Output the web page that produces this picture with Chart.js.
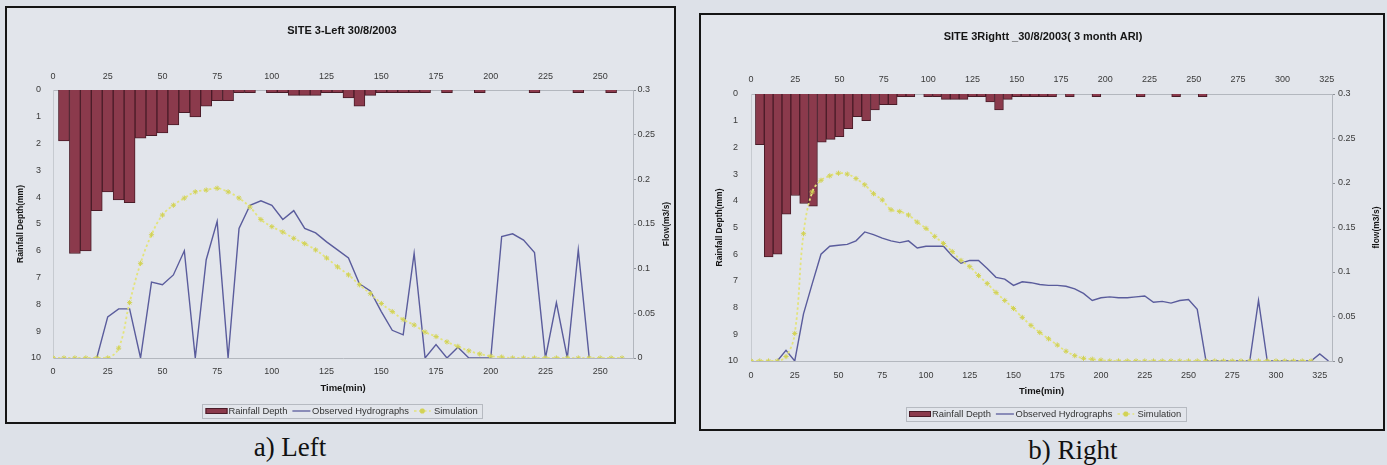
<!DOCTYPE html>
<html>
<head>
<meta charset="utf-8">
<script src="https://cdn.jsdelivr.net/npm/chart.js@4/dist/chart.umd.min.js"></script>
<style>
  html, body { margin: 0; padding: 0; }
  body {
    width: 1387px; height: 465px; position: relative; overflow: hidden;
    background: #dde1e8;
    font-family: "Liberation Sans", Arial, sans-serif;
  }
  .box { position: absolute; border: 2px solid #151515; box-sizing: border-box; background: #e2e5eb; }
  .box canvas { position: absolute; left: 0; top: 0; }
  .cap {
    position: absolute; transform: translateX(-50%); white-space: nowrap;
    font-family: "Liberation Serif", "Times New Roman", serif; font-size: 27px; line-height: 27px; color: #111;
  }
</style>
</head>
<body>
<div class="box" style="left:5px;top:6px;width:671px;height:418px">
  <canvas id="chartLeft" width="667" height="414" style="width:667px;height:414px"></canvas>
</div>
<div class="box" style="left:699px;top:13px;width:686px;height:418px">
  <canvas id="chartRight" width="682" height="414" style="width:682px;height:414px"></canvas>
</div>
<div class="cap" style="left:290px;top:434px">a) Left</div>
<div class="cap" style="left:1073px;top:437px">b) Right</div>

<script>
// Rainfall depth (mm) per 5-minute interval, same storm for both sites
const rainTime  = [5,10,15,20,25,30,35,40,45,50,55,60,65,70,75,80,85,90,95,100,
                   105,110,115,120,125,130,135,140,145,150,155,160,165,170,175,180,
                   185,190,195,200,205,210,215,220,225,230,235,240,245,250,255];
const rainDepth = [1.9,6.1,6.0,4.5,3.8,4.1,4.2,1.8,1.7,1.6,1.3,0.85,1.0,0.6,0.4,0.4,0.1,0.1,0,0.1,
                   0.1,0.2,0.2,0.2,0.1,0.1,0.3,0.6,0.2,0.1,0.1,0.1,0.1,0.1,0,0.1,
                   0,0,0.1,0,0,0,0,0.1,0,0,0,0.1,0,0,0.1];

// Site 3 left: time (min), observed and simulated flow (m3/s)
const timeLeft = [0,5,10,15,20,25,30,35,40,45,50,55,60,65,70,75,80,85,90,95,100,
                  105,110,115,120,125,130,135,140,145,150,155,160,165,170,175,180,
                  185,190,195,200,205,210,215,220,225,230,235,240,245,250,255,260];
const obsLeft  = [null,null,null,null,0,0.046,0.055,0.055,0,0.085,0.082,0.093,0.12,0,0.11,0.153,0,0.145,0.171,0.176,0.171,
                  0.155,0.165,0.145,0.14,0.13,0.121,0.112,0.083,0.075,0.052,0.031,0.026,0.117,0,0.015,0,
                  0.012,0,0,0,0.136,0.139,0.132,0.118,0,0.062,0,0.121,0,null,null,null];
const simLeft  = [0,0,0,0,0,0,0.011,0.062,0.106,0.138,0.16,0.171,0.179,0.186,0.188,0.19,0.186,0.179,0.169,0.155,0.147,
                  0.141,0.134,0.128,0.121,0.112,0.102,0.093,0.082,0.072,0.061,0.052,0.043,0.037,0.029,0.024,0.018,
                  0.013,0.008,0.0045,0.002,0.001,0,0,0,0,0,0,0,0,0,0,0];

// Site 3 right (3 month ARI): time (min), observed and simulated flow (m3/s)
const timeRight = [0,5,10,15,20,25,30,35,40,45,50,55,60,65,70,75,80,85,90,95,100,
                   105,110,115,120,125,130,135,140,145,150,155,160,165,170,175,180,
                   185,190,195,200,205,210,215,220,225,230,235,240,245,250,255,260,
                   265,270,275,280,285,290,295,300,305,310,315,320,325,330];
const obsRight  = [null,null,null,0,0.012,0,0.053,0.087,0.12,0.129,0.13,0.131,0.135,0.145,0.142,0.138,0.135,0.133,0.135,0.127,0.129,
                   0.129,0.129,0.118,0.11,0.113,0.113,0.104,0.094,0.092,0.085,0.089,0.088,0.086,0.085,0.085,0.084,
                   0.081,0.076,0.068,0.071,0.072,0.071,0.071,0.072,0.073,0.066,0.067,0.065,0.068,0.069,0.058,0,
                   0,0,0,0,0,0.068,0,0,0,0,0,0,0.008,0];
const simRight  = [0,0,0,0,0.005,0.031,0.143,0.19,0.203,0.208,0.211,0.21,0.205,0.198,0.188,0.181,0.17,0.168,0.164,0.156,0.149,
                   0.14,0.132,0.123,0.113,0.106,0.096,0.087,0.077,0.068,0.059,0.049,0.04,0.032,0.025,0.018,0.011,
                   0.006,0.003,0.002,0.001,0,0,0,0,0,0,0,0,0,0,0,0,
                   0,0,0,0,0,0,0,0,0,0,0,0];

const FONT = '"Liberation Sans", Arial, sans-serif';
Chart.defaults.font.family = FONT;

const COLORS = {
  bar: '#8b3a4c', barEdge: '#4a1c28',
  obs: '#5a5c9c',
  sim: '#e3e37c', simMark: '#d2d256',
  axis: '#b3b7be', tick: '#3a3a3a', text: '#151515'
};

function pairs(times, values) {
  return values.map((v, i) => ({ x: times[i], y: v }));
}

// Titles, axis titles and the boxed legend drawn around the plot area
const framePlugin = {
  id: 'frame',
  afterDraw(chart, args, o) {
    const { ctx, chartArea: a } = chart;
    const cx = (a.left + a.right) / 2;
    const cy = (a.top + a.bottom) / 2;
    ctx.save();
    ctx.fillStyle = COLORS.text;
    ctx.textAlign = 'center';
    ctx.textBaseline = 'middle';

    ctx.font = `bold 11px ${FONT}`;
    ctx.fillText(o.title, cx + o.titleDx, o.titleY);

    ctx.font = `bold 9.5px ${FONT}`;
    ctx.fillText(o.xTitle, cx, o.xTitleY);

    ctx.font = `bold 8.5px ${FONT}`;
    [[o.yLeft, o.yLeftX], [o.yRight, o.yRightX]].forEach(([txt, x]) => {
      ctx.save();
      ctx.translate(x, cy);
      ctx.rotate(-Math.PI / 2);
      ctx.fillText(txt, 0, 0);
      ctx.restore();
    });

    // legend
    const ds = chart.data.datasets;
    ctx.font = `9.4px ${FONT}`;
    const tw = ds.map(d => ctx.measureText(d.label).width);
    const W = 3.3 + 22 + 1 + tw[0] + 5 + 18 + 1.7 + tw[1] + 5 + 16.7 + 3.3 + tw[2] + 4;
    const y = o.legendY;
    let x = cx + o.legendDx - W / 2;
    ctx.strokeStyle = '#b6bac1';
    ctx.lineWidth = 1;
    ctx.strokeRect(Math.round(x) + 0.5, Math.round(y - 7) + 0.5, Math.round(W), 14);
    ctx.textAlign = 'left';
    ctx.fillStyle = '#333';

    x += 3.3;
    ctx.fillStyle = ds[0].backgroundColor;
    ctx.fillRect(x, y - 3, 22, 6);
    ctx.strokeStyle = ds[0].borderColor;
    ctx.strokeRect(x + 0.5, y - 2.5, 21, 5);
    x += 23;
    ctx.fillStyle = '#333';
    ctx.fillText(ds[0].label, x, y + 0.5);
    x += tw[0] + 5;

    ctx.strokeStyle = ds[1].borderColor;
    ctx.lineWidth = 1.3;
    ctx.beginPath(); ctx.moveTo(x, y); ctx.lineTo(x + 18, y); ctx.stroke();
    x += 19.7;
    ctx.fillText(ds[1].label, x, y + 0.5);
    x += tw[1] + 5;

    ctx.strokeStyle = ds[2].borderColor;
    ctx.lineWidth = 1.6;
    ctx.setLineDash([2.5, 2.5]);
    ctx.beginPath(); ctx.moveTo(x, y); ctx.lineTo(x + 16.7, y); ctx.stroke();
    ctx.setLineDash([]);
    ctx.strokeStyle = ds[2].pointBorderColor;
    ctx.fillStyle = ds[2].pointBackgroundColor;
    Chart.helpers.drawPoint(ctx, { pointStyle: 'star', radius: 2.6, borderWidth: 1, rotation: 0 }, x + 8.3, y);
    x += 20;
    ctx.fillStyle = '#333';
    ctx.fillText(ds[2].label, x, y + 0.5);
    ctx.restore();
  }
};

function buildChart(id, cfg) {
  const tickFont = { size: 9, family: FONT };
  const noGrid = { display: false, drawTicks: false, offset: false };
  return new Chart(document.getElementById(id), {
    type: 'line',
    data: {
      datasets: [
        {
          type: 'bar', label: 'Rainfall Depth', xAxisID: 'xTop', yAxisID: 'yRain', order: 3,
          data: rainTime.map((t, i) => ({ x: t, y: rainDepth[i] ? rainDepth[i] : null })),
          backgroundColor: COLORS.bar, borderColor: COLORS.barEdge, borderWidth: 1,
          grouped: false, categoryPercentage: 1, barPercentage: 1
        },
        {
          label: 'Observed Hydrographs', xAxisID: 'xTime', yAxisID: 'yFlow', order: 2,
          data: pairs(cfg.time, cfg.obs),
          borderColor: COLORS.obs, borderWidth: 1.4, pointRadius: 0, tension: 0, fill: false
        },
        {
          label: 'Simulation', xAxisID: 'xTime', yAxisID: 'yFlow', order: 1,
          data: pairs(cfg.time, cfg.sim),
          borderColor: COLORS.sim, borderWidth: 1.8, borderDash: [2.5, 2.5],
          pointStyle: 'star', pointRadius: 2.6, pointBorderWidth: 1,
          pointBorderColor: COLORS.simMark, pointBackgroundColor: COLORS.simMark,
          tension: 0.4, fill: false
        }
      ]
    },
    options: {
      responsive: false, animation: false, devicePixelRatio: 1,
      layout: { padding: 0 },
      plugins: {
        legend: { display: false }, tooltip: { enabled: false }, title: { display: false },
        frame: cfg.frame
      },
      scales: {
        xTop: {
          type: 'linear', position: 'top', min: 0, max: cfg.topMax, offset: false,
          grid: noGrid,
          border: { display: true, color: COLORS.axis },
          ticks: { stepSize: 25, includeBounds: false, autoSkip: false, maxRotation: 0,
                   padding: cfg.topPad, color: COLORS.tick, font: tickFont },
          afterFit: s => { s.height = cfg.topH; }
        },
        xTime: {
          type: 'linear', position: 'bottom', min: 0, max: cfg.bottomMax, offset: false,
          grid: noGrid,
          border: { display: true, color: COLORS.axis },
          ticks: { stepSize: 25, includeBounds: false, autoSkip: false, maxRotation: 0,
                   padding: cfg.bottomPad, color: COLORS.tick, font: tickFont },
          afterFit: s => { s.height = cfg.bottomH; }
        },
        yRain: {
          type: 'linear', position: 'left', reverse: true, min: 0, max: 10,
          grid: noGrid,
          border: { display: true, color: '#c6cad0' },
          ticks: { stepSize: 1, padding: cfg.leftPad, color: COLORS.tick, font: tickFont },
          afterFit: s => { s.width = cfg.leftW; }
        },
        yFlow: {
          type: 'linear', position: 'right', min: 0, max: 0.3,
          grid: { display: true, drawOnChartArea: false, drawTicks: true, tickLength: 3, color: '#8d9198' },
          border: { display: true, color: COLORS.axis },
          ticks: { stepSize: 0.05, padding: cfg.rightPad, color: COLORS.tick, font: tickFont,
                   callback: v => String(+v.toFixed(2)) },
          afterFit: s => { s.width = cfg.rightW; }
        }
      }
    },
    plugins: [framePlugin]
  });
}

buildChart('chartLeft', {
  time: timeLeft, obs: obsLeft, sim: simLeft,
  topMax: 265, bottomMax: 265,
  topH: 82, bottomH: 64, leftW: 46, rightW: 41,
  topPad: 7.6, bottomPad: 8, leftPad: 12, rightPad: 1.5,
  frame: {
    title: 'SITE 3-Left 30/8/2003', titleY: 23, titleDx: -1,
    xTitle: 'Time(min)', xTitleY: 380,
    yLeft: 'Rainfall Depth(mm)', yLeftX: 13.7,
    yRight: 'Flow(m3/s)', yRightX: 660,
    legendY: 403, legendDx: -1
  }
});

buildChart('chartRight', {
  time: timeRight, obs: obsRight, sim: simRight,
  topMax: 328, bottomMax: 332,
  topH: 79, bottomH: 68, leftW: 50, rightW: 51,
  topPad: 8.6, bottomPad: 9, leftPad: 13, rightPad: 3,
  frame: {
    title: 'SITE 3Rightt _30/8/2003( 3 month ARI)', titleY: 22, titleDx: 1.5,
    xTitle: 'Time(min)', xTitleY: 376,
    yLeft: 'Rainfall Depth(mm)', yLeftX: 19,
    yRight: 'flow(m3/s)', yRightX: 676,
    legendY: 399, legendDx: 4
  }
});
</script>
</body>
</html>
